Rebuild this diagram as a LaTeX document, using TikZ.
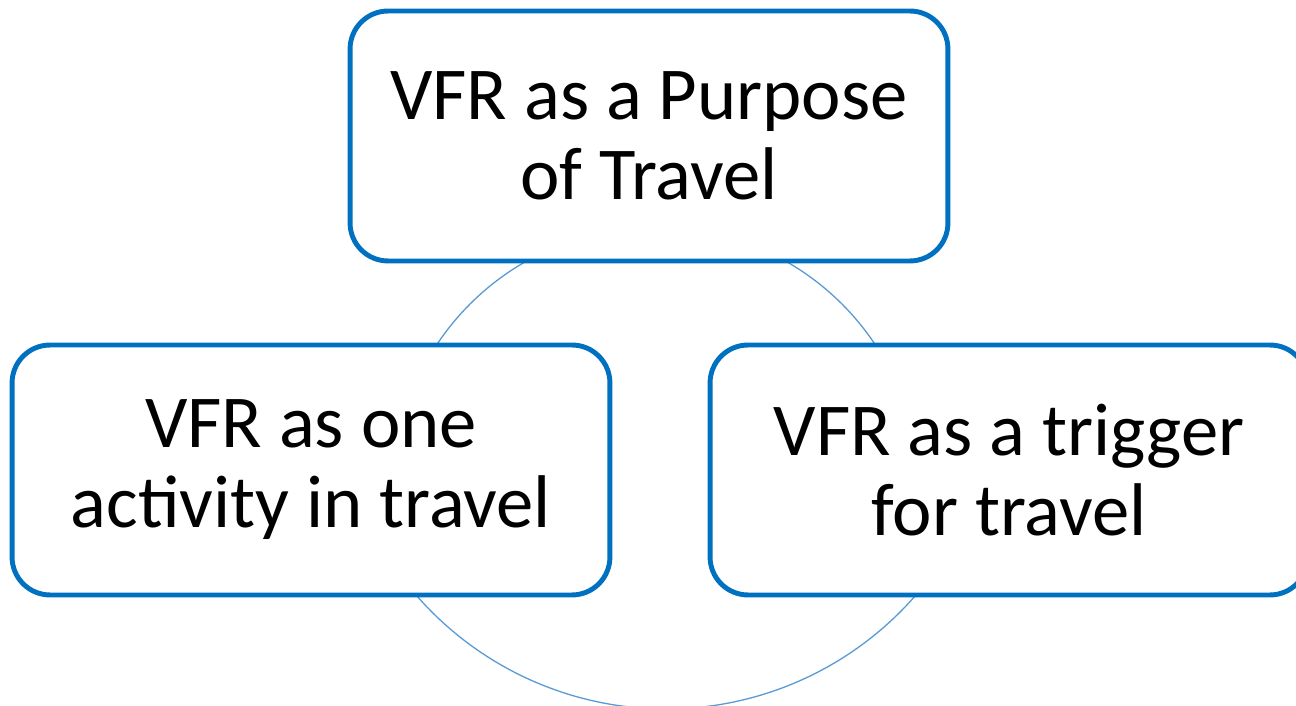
\documentclass[tikz,border=0pt]{standalone}
\usepackage{fontspec}
\setmainfont{Carlito}
\usetikzlibrary{calc}
\definecolor{boxblue}{HTML}{0070C0}
\definecolor{ringblue}{HTML}{5B9BD5}
\tikzset{
  vfrbox/.style={draw=boxblue, line width=2.8pt, fill=white, rounded corners=0.76cm,
    minimum width=11.96cm, minimum height=5cm, align=center, inner sep=0pt,
    font=\fontsize{42.5}{45.5}\selectfont},
  ring/.style={draw=ringblue, line width=0.75pt}
}

\begin{document}
\begin{tikzpicture}[x=0.02cm, y=0.02cm]
  \useasboundingbox (0,0) rectangle (1296,706);
  % ring behind the boxes
  \coordinate (RU) at (656,216);
  \coordinate (RL) at (666,328);
  \coordinate (ul) at ($(RU)+(148:263)$);
  \coordinate (ur) at ($(RU)+(62:263)$);
  \coordinate (lo) at ($(RL)+(218:331)$);
  \draw[ring] (ul) arc[start angle=148, end angle=118, radius=263];
  \draw[ring] (ur) arc[start angle=62, end angle=32, radius=263];
  \draw[ring] (lo) arc[start angle=218, end angle=322, radius=331];
  % boxes
  \node[vfrbox] (purpose) at (649,570) {VFR as a Purpose\\of Travel};
  \node[vfrbox] (activity) at (311,236) {VFR as one\\activity in travel};
  \node[vfrbox] (trigger) at (1009,236) {VFR as a trigger\\for travel};
\end{tikzpicture}
\end{document}
